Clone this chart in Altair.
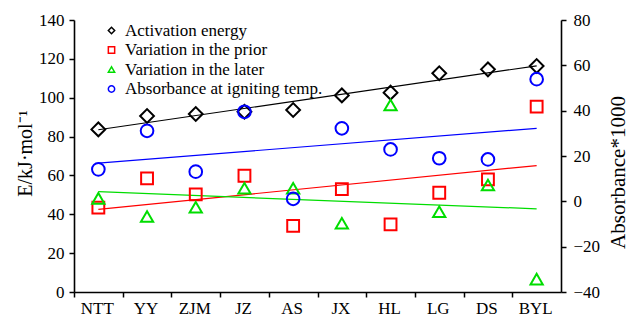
import altair as alt
import pandas as pd

categories = ["NTT", "YY", "ZJM", "JZ", "AS", "JX", "HL", "LG", "DS", "BYL"]
series_names = ["Activation energy", "Variation in the prior",
                "Variation in the later", "Absorbance at igniting temp."]
series_colors = ["black", "#ff0000", "#00dd00", "#0000ff"]
series_shapes = ["diamond", "square", "triangle-up", "circle"]
series_sizes = [190, 140, 150, 160]

# left axis (kJ/mol)
activation_energy = [83.7, 90.6, 91.6, 92.8, 93.7, 101.2, 102.6, 112.6, 114.6, 116.3]
# right axis (Absorbance*1000)
variation_prior = [-2.8, 10.1, 3.1, 11.3, -10.8, 5.4, -10.2, 3.8, 9.7, 41.8]
variation_later = [1.3, -6.7, -2.6, 5.8, 5.8, -9.7, 42.5, -4.6, 7.2, -34.3]
absorbance = [14.1, 31.1, 13.1, 39.5, 1.1, 32.2, 22.9, 19.0, 18.5, 53.9]

left_df = pd.DataFrame({"idx": range(len(categories)), "val": activation_energy,
                        "series": series_names[0]})
right_parts = []
for name, vals in zip(series_names[1:], [variation_prior, variation_later, absorbance]):
    right_parts.append(pd.DataFrame({"idx": range(len(categories)), "val": vals, "series": name}))
right_df = pd.concat(right_parts, ignore_index=True)

W, H = 487, 272
band = W / len(categories)
FONT = "Liberation Serif"

label_expr = "[" + ",".join("'%s'" % c for c in categories) + "][datum.value]"
x_enc = alt.X("idx:Q", scale=alt.Scale(domain=[-0.5, len(categories) - 0.5], nice=False, zero=False),
              axis=alt.Axis(values=list(range(len(categories))), labelExpr=label_expr,
                            tickOffset=-band / 2, labelOffset=band / 2 - 1.5, title=None,
                            grid=False, labelFontSize=17, labelPadding=3, labelFont=FONT))

legend = alt.Legend(orient="none", legendX=29, legendY=2, title=None,
                    labelFont=FONT, labelFontSize=17, labelColor="black", labelLimit=400,
                    symbolSize=40, symbolStrokeWidth=1.5, rowPadding=1.5, labelOffset=5)
color_enc = alt.Color("series:N", scale=alt.Scale(domain=series_names, range=series_colors),
                      legend=legend)
shape_enc = alt.Shape("series:N", scale=alt.Scale(domain=series_names, range=series_shapes),
                      legend=legend)

y_left = alt.Y("val:Q", scale=alt.Scale(domain=[0, 140], nice=False),
               axis=alt.Axis(values=list(range(0, 141, 20)), title="E/kJ·mol⁻¹",
                             orient="left", grid=False, labelFontSize=17, titleFontSize=20,
                             titleX=-49, titleY=133, titleAngle=270, titleAlign="center",
                             titleBaseline="middle",
                             labelPadding=5, labelFont=FONT, titleFont=FONT))
y_right = alt.Y("val:Q", scale=alt.Scale(domain=[-40, 80], nice=False),
                axis=alt.Axis(values=list(range(-40, 81, 20)), title="Absorbance*1000",
                              orient="right", grid=False, labelFontSize=17, titleFontSize=21,
                              titleX=57, titleY=152, titleAngle=270, titleAlign="center",
                              titleBaseline="middle", labelPadding=7,
                              labelFont=FONT, titleFont=FONT))

left_line = alt.Chart(left_df).transform_regression("idx", "val").mark_line(
    color="black", strokeWidth=1.2).encode(x=x_enc, y=y_left)
left_points = alt.Chart(left_df).mark_point(filled=False, strokeWidth=2, opacity=1,
                                            size=series_sizes[0]).encode(
    x=x_enc, y=y_left, color=color_enc, shape=shape_enc)
left_layer = alt.layer(left_line, left_points)

right_lines = []
right_points = []
for name, col, sz in zip(series_names[1:], series_colors[1:], series_sizes[1:]):
    right_lines.append(
        alt.Chart(right_df).transform_filter(alt.datum.series == name)
        .transform_regression("idx", "val").mark_line(color=col, strokeWidth=1.2)
        .encode(x=x_enc, y=y_right))
    right_points.append(
        alt.Chart(right_df).transform_filter(alt.datum.series == name)
        .mark_point(filled=False, strokeWidth=2, opacity=1, size=sz)
        .encode(x=x_enc, y=y_right, color=color_enc, shape=shape_enc))
right_layer = alt.layer(*right_lines, *right_points)

chart = alt.layer(left_layer, right_layer).resolve_scale(y="independent").properties(
    width=W, height=H,
    autosize=alt.AutoSizeParams(type="none"),
    padding={"left": 74, "top": 20, "right": 631 - 74 - W, "bottom": 320 - 20 - H},
).configure_view(stroke=None).configure_axis(
    labelFont=FONT, titleFont=FONT, labelColor="black", titleColor="black",
    domainColor="black", tickColor="black", domainWidth=1.6, tickWidth=1.5, tickSize=5,
    titleFontWeight="normal"
).configure_legend(labelFont=FONT, symbolSize=40)

chart.save("out.html", embed_options={"renderer": "svg", "actions": False})
